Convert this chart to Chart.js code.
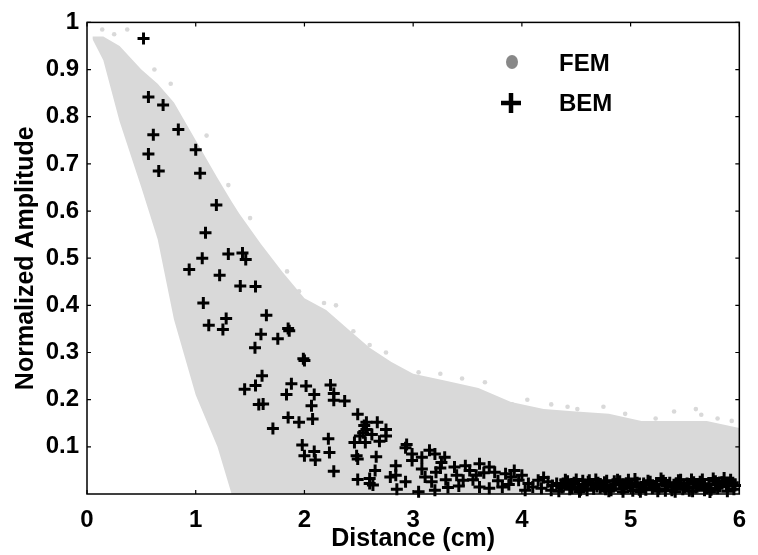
<!DOCTYPE html>
<html>
<head>
<meta charset="utf-8">
<script src="https://cdn.jsdelivr.net/npm/chart.js@4.4.1/dist/chart.umd.min.js"></script>
<style>
  html, body { margin: 0; padding: 0; background: #fff; }
  canvas { display: block; }
</style>
</head>
<body>
<canvas id="chart" width="758" height="555"></canvas>
<script>
// FEM cloud: dense band read as upper / lower edges, plus sparse dots above it
const femEdgeX  = [0.05, 0.15, 0.3, 0.5, 0.65, 0.8, 1.0, 1.2, 1.33, 1.4, 1.6, 1.8, 2.0, 2.2, 2.4, 2.6, 2.8, 3.0, 3.3, 3.6, 3.9, 4.2, 4.5, 4.8, 5.1, 5.4, 5.7, 6.0];
const femUpper  = [0.97, 0.97, 0.95, 0.90, 0.87, 0.83, 0.75, 0.67, 0.62, 0.595, 0.53, 0.47, 0.415, 0.39, 0.35, 0.31, 0.28, 0.255, 0.24, 0.225, 0.195, 0.18, 0.175, 0.17, 0.155, 0.155, 0.155, 0.14];
const femLower  = [0.965, 0.92, 0.79, 0.65, 0.54, 0.37, 0.21, 0.10, 0, 0, 0, 0, 0, 0, 0, 0, 0, 0, 0, 0, 0, 0, 0, 0, 0, 0, 0, 0];
const femDotX   = [0.14, 0.37, 0.25, 0.77, 0.62, 1.1, 1.3, 1.5, 1.84, 1.95, 2.29, 2.18, 2.45, 2.60, 2.75, 3.05, 3.25, 3.45, 3.66, 3.91, 4.05, 4.27, 4.42, 4.51, 4.75, 4.95, 5.23, 5.4, 5.6, 5.65, 5.8, 5.93];
const femDotY   = [0.985, 0.985, 0.975, 0.87, 0.90, 0.76, 0.655, 0.585, 0.472, 0.43, 0.40, 0.405, 0.345, 0.316, 0.30, 0.258, 0.255, 0.245, 0.237, 0.19, 0.20, 0.19, 0.185, 0.18, 0.185, 0.17, 0.16, 0.175, 0.18, 0.168, 0.16, 0.155];

// BEM points
const bemX = [0.52, 0.565, 0.70, 0.84, 0.61, 1.00, 0.565, 1.04, 0.66, 1.19, 1.09, 1.43, 1.30, 1.46, 1.06, 0.94, 1.22, 1.41, 1.55, 1.07,
  1.65, 1.28, 1.12, 1.25, 1.85, 1.86, 1.60, 1.755, 1.545, 1.99, 2.00, 1.61, 1.45, 1.55, 1.58, 1.62, 1.88, 1.835, 2.015, 2.09,
  2.065, 2.24, 2.27, 2.27, 2.37, 1.85, 1.95, 2.075, 1.71, 1.98, 2.00, 2.09, 2.10, 2.22, 2.23, 2.27, 2.49, 2.57, 2.67, 2.75,
  2.54, 2.57, 2.51, 2.46, 2.56, 2.69, 2.75, 2.48, 2.49, 2.66, 2.65, 2.49, 2.60, 2.63, 2.60, 2.79, 2.94, 2.93, 2.99, 3.15,
  3.20, 3.29, 3.08, 2.99, 2.84, 2.84, 2.93, 2.85, 3.08, 3.11, 3.21, 3.17, 3.05, 3.20, 3.32, 3.42, 3.38, 3.48, 3.52, 3.61,
  3.70, 3.75, 3.58, 3.46, 3.61, 3.70, 3.85, 3.90, 3.82, 3.97, 4.06, 4.15, 4.24, 4.32, 4.03, 4.18, 4.27, 3.26, 2.55, 2.62,
  3.55, 3.65, 3.78, 3.88, 3.93, 4.00, 4.10, 4.20, 4.28, 3.40, 3.30, 3.25,
  4.36, 4.40, 4.44, 4.48, 4.52, 4.56, 4.60, 4.64, 4.68, 4.72, 4.76, 4.80, 4.84, 4.88, 4.92, 4.96, 5.00, 5.04, 5.08, 5.12,
  5.16, 5.20, 5.24, 5.28, 5.32, 5.36, 5.40, 5.44, 5.48, 5.52, 5.56, 5.60, 5.64, 5.68, 5.72, 5.76, 5.80, 5.84, 5.88, 5.92, 5.95,
  4.34, 4.38, 4.42, 4.46, 4.50, 4.54, 4.58, 4.62, 4.66, 4.70, 4.74, 4.78, 4.82, 4.86, 4.90, 4.94, 4.98, 5.02, 5.06, 5.10,
  5.14, 5.18, 5.22, 5.26, 5.30, 5.34, 5.38, 5.42, 5.46, 5.50, 5.54, 5.58, 5.62, 5.66, 5.70, 5.74, 5.78, 5.82, 5.86, 5.90, 5.94,
  4.37, 4.45, 4.53, 4.61, 4.69, 4.77, 4.85, 4.93, 5.01, 5.09, 5.17, 5.25, 5.33, 5.41, 5.49, 5.57, 5.65, 5.73, 5.81, 5.89, 5.96];
const bemY = [0.966, 0.842, 0.825, 0.773, 0.762, 0.730, 0.721, 0.680, 0.685, 0.613, 0.554, 0.511, 0.509, 0.497, 0.500, 0.476, 0.464, 0.441, 0.440, 0.405,
  0.379, 0.372, 0.358, 0.349, 0.351, 0.346, 0.339, 0.329, 0.310, 0.287, 0.283, 0.251, 0.222, 0.230, 0.190, 0.191, 0.234, 0.211, 0.229, 0.211,
  0.187, 0.231, 0.213, 0.199, 0.197, 0.162, 0.152, 0.159, 0.139, 0.104, 0.081, 0.090, 0.072, 0.117, 0.088, 0.048, 0.169, 0.152, 0.152, 0.137,
  0.130, 0.137, 0.123, 0.109, 0.109, 0.112, 0.123, 0.081, 0.074, 0.079, 0.050, 0.031, 0.033, 0.019, 0.022, 0.036, 0.105, 0.098, 0.085, 0.093,
  0.085, 0.078, 0.078, 0.071, 0.060, 0.040, 0.026, 0.010, 0.053, 0.036, 0.046, 0.026, 0.005, 0.008, 0.014, 0.017, 0.057, 0.060, 0.050, 0.064,
  0.057, 0.046, 0.040, 0.029, 0.015, 0.012, 0.043, 0.036, 0.015, 0.029, 0.022, 0.029, 0.026, 0.022, 0.008, 0.012, 0.008, 0.067, 0.145, 0.126,
  0.030, 0.045, 0.028, 0.020, 0.050, 0.040, 0.015, 0.035, 0.018, 0.040, 0.030, 0.055,
  0.018, 0.030, 0.010, 0.024, 0.014, 0.028, 0.008, 0.021, 0.031, 0.013, 0.025, 0.006, 0.019, 0.030, 0.011, 0.023, 0.016, 0.032, 0.009, 0.022,
  0.028, 0.012, 0.020, 0.033, 0.007, 0.024, 0.015, 0.029, 0.010, 0.022, 0.031, 0.014, 0.026, 0.008, 0.020, 0.033, 0.012, 0.025, 0.017, 0.030, 0.010,
  0.006, 0.022, 0.027, 0.012, 0.031, 0.009, 0.020, 0.029, 0.011, 0.024, 0.016, 0.028, 0.008, 0.021, 0.027, 0.013, 0.030, 0.007, 0.024, 0.015,
  0.009, 0.026, 0.017, 0.011, 0.028, 0.019, 0.008, 0.023, 0.030, 0.014, 0.007, 0.025, 0.018, 0.031, 0.012, 0.009, 0.027, 0.016, 0.034, 0.021, 0.024,
  0.014, 0.019, 0.005, 0.026, 0.016, 0.010, 0.027, 0.005, 0.019, 0.005, 0.024, 0.006, 0.018, 0.005, 0.020, 0.006, 0.019, 0.004, 0.023, 0.006, 0.018];

const xTicks = [0, 1, 2, 3, 4, 5, 6];
const yTicks = [0.1, 0.2, 0.3, 0.4, 0.5, 0.6, 0.7, 0.8, 0.9, 1];

const FONT = "'Liberation Sans', Arial, sans-serif";
const toXY = (xs, ys) => xs.map((x, i) => ({ x: x, y: ys[i] }));

// box, inward ticks on all four sides, and the legend
const framePlugin = {
  id: 'frame',
  afterDraw(chart) {
    const { ctx, chartArea: a, scales: { x, y } } = chart;
    ctx.save();
    ctx.strokeStyle = '#000';
    ctx.lineWidth = 1.5;
    ctx.strokeRect(a.left, a.top, a.right - a.left, a.bottom - a.top);
    ctx.lineWidth = 1.2;
    ctx.beginPath();
    xTicks.forEach(v => {
      const px = x.getPixelForValue(v);
      ctx.moveTo(px, a.bottom); ctx.lineTo(px, a.bottom - 4);
      ctx.moveTo(px, a.top); ctx.lineTo(px, a.top + 4);
    });
    yTicks.forEach(v => {
      const py = y.getPixelForValue(v);
      ctx.moveTo(a.left, py); ctx.lineTo(a.left + 4, py);
      ctx.moveTo(a.right, py); ctx.lineTo(a.right - 4, py);
    });
    ctx.stroke();

    // legend
    ctx.fillStyle = '#888';
    ctx.beginPath();
    ctx.ellipse(512, 62, 6, 7, 0, 0, Math.PI * 2);
    ctx.fill();
    ctx.strokeStyle = '#000';
    ctx.lineWidth = 4.5;
    ctx.beginPath();
    ctx.moveTo(501, 103); ctx.lineTo(521, 103);
    ctx.moveTo(511, 93); ctx.lineTo(511, 113);
    ctx.stroke();
    ctx.fillStyle = '#000';
    ctx.font = 'bold 24px ' + FONT;
    ctx.textBaseline = 'middle';
    ctx.fillText('FEM', 559, 64);
    ctx.fillText('BEM', 559, 104);
    ctx.restore();
  }
};

new Chart(document.getElementById('chart').getContext('2d'), {
  type: 'scatter',
  data: {
    datasets: [
      {
        label: 'BEM',
        data: toXY(bemX, bemY),
        pointStyle: 'cross',
        pointRadius: 6,
        borderColor: '#000',
        borderWidth: 3,
        clip: 8,
        order: 0
      },
      {
        label: 'FEM',
        data: toXY(femDotX, femDotY),
        pointStyle: 'circle',
        pointRadius: 2.3,
        backgroundColor: '#d9d9d9',
        borderWidth: 0,
        order: 1
      },
      {
        type: 'line',
        label: 'FEM upper',
        data: toXY(femEdgeX, femUpper),
        showLine: true,
        borderWidth: 0,
        borderColor: 'rgba(0,0,0,0)',
        backgroundColor: '#d9d9d9',
        pointRadius: 0,
        tension: 0,
        fill: '+1',
        order: 2
      },
      {
        type: 'line',
        label: 'FEM lower',
        data: toXY(femEdgeX, femLower),
        showLine: true,
        borderWidth: 0,
        borderColor: 'rgba(0,0,0,0)',
        pointRadius: 0,
        tension: 0,
        fill: false,
        order: 3
      }
    ]
  },
  options: {
    responsive: false,
    animation: false,
    layout: { padding: { left: 0, right: 7, top: 13, bottom: 0 } },
    plugins: {
      legend: { display: false },
      tooltip: { enabled: false }
    },
    scales: {
      x: {
        type: 'linear',
        min: 0,
        max: 6,
        afterFit: s => { s.height = 61; },
        afterBuildTicks: s => { s.ticks = xTicks.map(v => ({ value: v })); },
        grid: { display: false, drawTicks: false },
        border: { display: false },
        ticks: {
          padding: 12,
          color: '#000',
          font: { family: FONT, size: 24, weight: 'bold' },
          callback: v => String(v)
        },
        title: {
          display: true,
          text: 'Distance (cm)',
          color: '#000',
          font: { family: FONT, size: 25, weight: 'bold' },
          padding: { top: 0, bottom: 1 }
        }
      },
      y: {
        min: 0,
        max: 1,
        afterFit: s => { s.width = 87; },
        afterBuildTicks: s => { s.ticks = yTicks.map(v => ({ value: v })); },
        grid: { display: false, drawTicks: false },
        border: { display: false },
        ticks: {
          padding: 8,
          color: '#000',
          font: { family: FONT, size: 24, weight: 'bold' },
          callback: v => (Math.round(v * 10) / 10).toString()
        },
        title: {
          display: true,
          text: 'Normalized Amplitude',
          color: '#000',
          font: { family: FONT, size: 25, weight: 'bold' },
          padding: { top: 11, bottom: 0 }
        }
      }
    }
  },
  plugins: [framePlugin]
});
</script>
</body>
</html>
